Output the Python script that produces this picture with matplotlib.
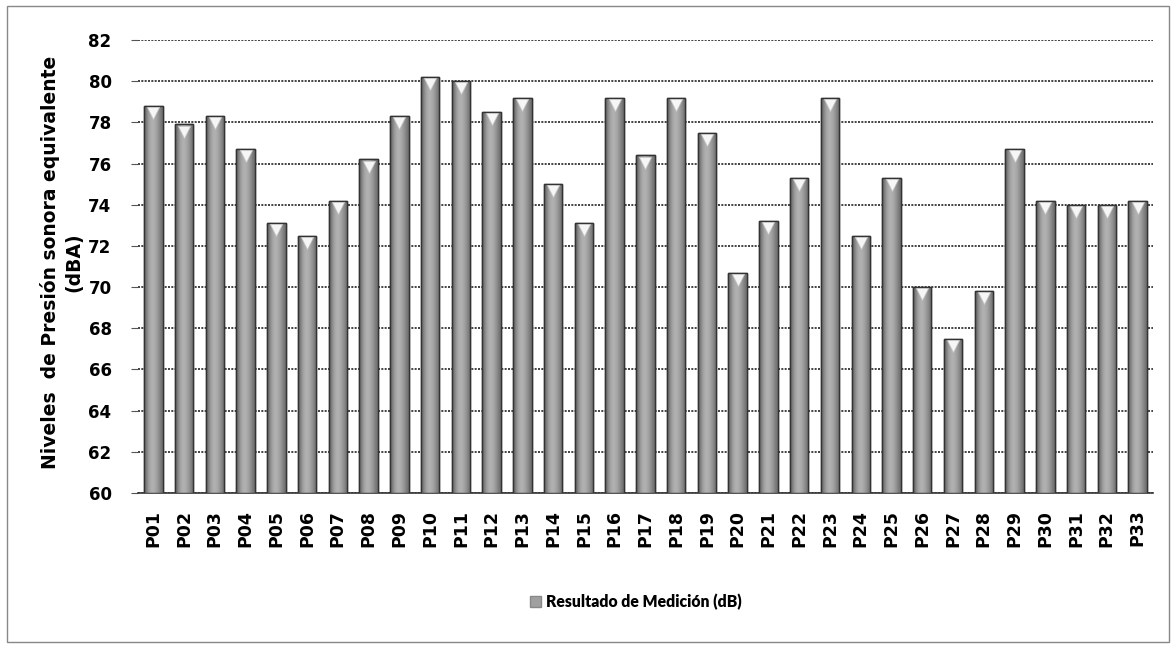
import matplotlib
matplotlib.use("Agg")
import matplotlib.pyplot as plt
import numpy as np
from matplotlib.patches import Rectangle

plt.rcParams["font.family"] = ["DejaVu Sans"]

categories = ["P%02d" % i for i in range(1, 34)]
values = [78.8, 77.9, 78.3, 76.7, 73.1, 72.5, 74.2, 76.2, 78.3, 80.2,
          80.0, 78.5, 79.2, 75.0, 73.1, 79.2, 76.4, 79.2, 77.5, 70.7,
          73.2, 75.3, 79.2, 72.5, 75.3, 70.0, 67.5, 69.8, 76.7, 74.2,
          74.0, 74.0, 74.2]
yticks = list(range(60, 83, 2))
ylabel = "Niveles  de Presión sonora equivalente\n(dBA)"
legend_label = "Resultado de Medición (dB)"

fig = plt.figure(figsize=(11.76, 6.46), dpi=100)
fig.patches.append(Rectangle((0.006, 0.006), 0.988, 0.984, transform=fig.transFigure,
                             fill=False, edgecolor="#888888", linewidth=1.0))
ax = fig.add_axes([0.1173, 0.2368, 0.8631, 0.7013])

x = np.arange(len(categories))
bars = ax.bar(x, [v - 60 for v in values], bottom=60, width=0.6,
              color="#a0a0a0", edgecolor="#333333", linewidth=1.0, zorder=3,
              label=legend_label)

# cylinder-like shading
grad = np.array([[0.40, 0.56, 0.66, 0.70, 0.68, 0.62, 0.54, 0.44]])
for b in bars:
    bx, bw = b.get_x(), b.get_width()
    top = b.get_y() + b.get_height()
    im = ax.imshow(grad, cmap="gray", vmin=0, vmax=1, aspect="auto",
                   extent=(bx, bx + bw, 60, top), zorder=3.5, interpolation="bicubic")
    im.set_clip_path(b)
    ax.add_patch(Rectangle((bx, 60), bw, top - 60, fill=False,
                           edgecolor="#333333", linewidth=1.0, zorder=3.6))

ax.scatter(x, [v - 0.35 for v in values], marker="v", s=75, color="#f6f6f6",
           edgecolor="#c8c8c8", linewidth=0.5, zorder=4)

ax.set_xlim(-0.5, len(categories) - 0.5)
ax.set_ylim(60, 82)
ax.set_yticks(yticks)
ax.set_yticklabels([str(t) for t in yticks], fontsize=12, fontweight="bold")
ax.set_xticks(x)
ax.set_xticklabels(categories, rotation=90, fontsize=12.5, fontweight="bold")
ax.tick_params(axis="y", length=5, color="#555555", pad=14)
ax.tick_params(axis="x", length=0, pad=12)
ax.yaxis.grid(True, linestyle=(0, (1.2, 0.8)), color="#222222", linewidth=1.2, zorder=0)
ax.set_axisbelow(True)
for s in ["top", "right", "left"]:
    ax.spines[s].set_visible(False)
ax.spines["bottom"].set_color("#333333")
ax.spines["bottom"].set_linewidth(1.2)

ax.set_ylabel(ylabel, fontsize=13.5, fontweight="bold", linespacing=1.25)
ax.yaxis.set_label_coords(-0.054, 0.51)

handles = [Rectangle((0, 0), 1, 1, facecolor="#a0a0a0", edgecolor="#888888")]
fig.legend(handles, [legend_label], loc="center", bbox_to_anchor=(0.541, 0.068),
           frameon=False, handlelength=0.7, handleheight=0.7,
           handletextpad=0.3, prop={"family": "Lato", "weight": "heavy", "size": 11.3})

fig.savefig("out.png", dpi=100)
